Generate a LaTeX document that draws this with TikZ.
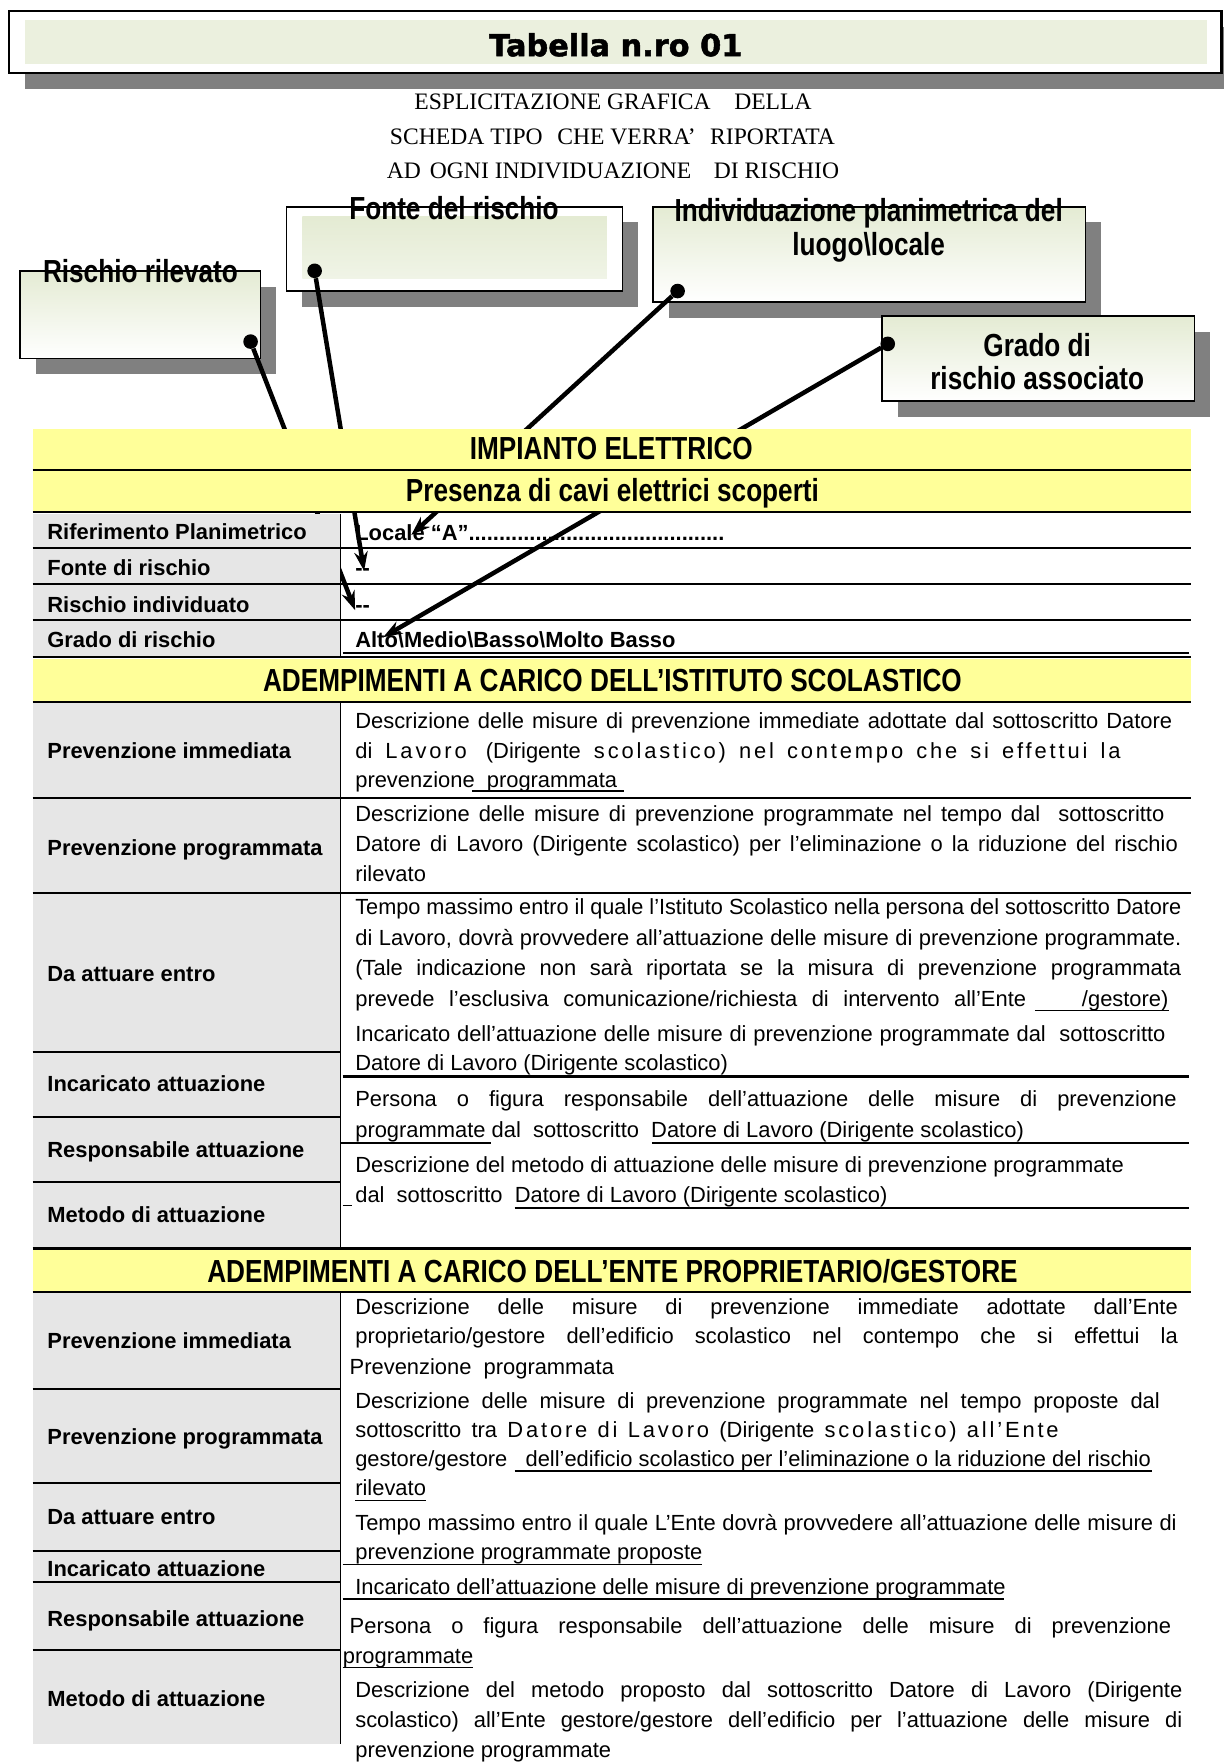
\documentclass[tikz,border=0pt]{standalone}
\usepackage{fontspec}
\usepackage{graphicx}
\setmainfont{Liberation Sans}
\newfontfamily\narrowf{Liberation Sans}[FakeStretch=0.82]
\newfontfamily\heavyf{DejaVu Sans}[BoldFeatures={FakeBold=1.6}]
\newfontfamily\serff{Liberation Serif}
\usetikzlibrary{arrows.meta}

\definecolor{hdryellow}{HTML}{FFFF99}
\definecolor{colgray}{HTML}{E6E6E6}
\definecolor{boxgreen}{HTML}{E4EBD3}
\definecolor{titlegreen}{HTML}{EBF0DE}
\definecolor{shadowgray}{HTML}{808080}

\newlength\jlw
\newcommand\jline[2]{%
  \settowidth\jlw{#2}%
  \ifdim\jlw>#1\relax
    \pgfmathsetmacro\jlr{(#1)/(\jlw)}%
    \scalebox{\jlr}[1]{#2}%
  \else
    \makebox[#1][s]{#2}%
  \fi}
\newcommand\lsp[1]{{\addfontfeature{LetterSpace=13}#1}}
\newcommand\bodyf{\fontsize{19.5}{23}\selectfont}
\newcommand\hdrf{\narrowf\bfseries\fontsize{28.4}{32}\selectfont}

\tikzset{
  txt/.style={anchor=base west, inner sep=0pt, font=\bodyf},
  lbl/.style={anchor=base west, inner sep=0pt, font=\bodyf\bfseries},
  hdr/.style={anchor=base, inner sep=0pt, font=\hdrf},
  sub/.style={anchor=base, inner sep=0pt, font=\serff\fontsize{21}{24}\selectfont},
  rowline/.style={line width=1.9pt},
  vline/.style={line width=1.4pt},
  ulline/.style={line width=1.2pt},
  boxline/.style={draw=black, line width=1.4pt},
  conn/.style={line width=4pt, -{Stealth[length=17pt,width=12pt]}},
  dot/.style={circle, fill=black, inner sep=0pt, minimum size=13pt},
}

\begin{document}
\begin{tikzpicture}[x=1pt,y=-1pt]
\useasboundingbox (0,0) rectangle (1089,1568);
\begin{scope}
\clip (0,0) rectangle (1089,1568);
\fill[white] (0,0) rectangle (1089,1568);

% ---------- title box
\fill[shadowgray] (22,24) rectangle (1103,79);
\filldraw[fill=white, line width=1.9pt] (8,10) rectangle (1087,65);
\fill[titlegreen] (22,18) rectangle (1074,57);
\node[anchor=base, inner sep=0pt, font=\heavyf\bfseries\fontsize{27}{30}\selectfont] (title) at (548,50) {Tabella n.ro 01};

% ---------- subtitle
\node[sub] (sub1) at (545.5,97) {ESPLICITAZIONE GRAFICA\hspace{21pt}DELLA};
\node[sub] (sub2) at (545,129) {SCHEDA TIPO\hspace{13pt}CHE VERRA’\hspace{13pt}RIPORTATA};
\node[sub] (sub3) at (545.5,159) {AD\hspace{8pt}OGNI INDIVIDUAZIONE\hspace{20pt}DI RISCHIO};

% ---------- callout boxes
\fill[shadowgray] (32,255) rectangle (246,333);
\shade[top color=boxgreen, bottom color=white] (18,241) rectangle (232,319);
\draw[boxline] (18,241) rectangle (232,319);

\fill[shadowgray] (269,198) rectangle (568,273);
\filldraw[fill=white, boxline] (255,184) rectangle (554,259);
\shade[top color=boxgreen, bottom color=boxgreen!55!white] (269,193) rectangle (540,248);

\fill[shadowgray] (595,198) rectangle (980,283);
\shade[top color=boxgreen, bottom color=white] (581,184) rectangle (966,269);
\draw[boxline] (581,184) rectangle (966,269);

\fill[shadowgray] (799,295) rectangle (1077,371);
\shade[top color=boxgreen, bottom color=white] (785,281) rectangle (1063,357);
\draw[boxline] (785,281) rectangle (1063,357);

% ---------- connectors (drawn under the table fills)
\node[dot] (d1) at (223,304) {};
\node[dot] (d2) at (280,241) {};
\node[dot] (d3) at (603,259) {};
\node[dot] (d4) at (790,306) {};
\coordinate (t1) at (316,543);
\coordinate (t2) at (324,508);
\coordinate (t3) at (366,476);
\coordinate (t4) at (341,567);
\draw[conn] (d1) -- (t1);
\draw[conn] (d2) -- (t2);
\draw[conn] (d3) -- (t3);
\draw[conn] (d4) -- (t4);

% ---------- table fills
\fill[hdryellow] (29,382) rectangle (1060,456);
\fill[colgray] (29,457) rectangle (303,585);
\fill[hdryellow] (29,586) rectangle (1060,625);
\fill[colgray] (29,626) rectangle (303,1110);
\fill[hdryellow] (29,1111) rectangle (1060,1150);
\fill[colgray] (29,1151) rectangle (303,1552);

% ---------- table lines
\foreach \yy in {418,456,488,520,552,585,625,710,795,1111,1150}
  \draw[rowline] (29,\yy) -- (1060,\yy);
\foreach \yy in {936,994,1052,1236,1320,1380,1408,1468}
  \draw[rowline] (29,\yy) -- (303,\yy);
\draw[rowline] (305,581) -- (1058,581);
\draw[rowline] (305,958) -- (1058,958);
\draw[rowline] (580,1017) -- (1058,1017);
\draw[rowline] (458,1075) -- (1058,1075);
\draw[vline] (303,457) -- (303,585);
\draw[vline] (303,626) -- (303,1110);
\draw[vline] (303,1150) -- (303,1552);

% underlines
\draw[ulline] (420,704) -- (555,704);
\draw[ulline] (921,899) -- (1040,899);
\draw[ulline] (303,1017) -- (437,1017);
\draw[ulline] (305,1073) -- (313,1073);
\draw[ulline] (458,1309) -- (1025,1309);
\draw[ulline] (316,1335) -- (379,1335);
\draw[ulline] (305,1392) -- (625,1392);
\draw[ulline] (305,1423) -- (893,1423);
\draw[ulline] (305,1484) -- (421,1484);

% ---------- headers
\node[hdr] (h1) at (544,409) {IMPIANTO ELETTRICO};
\node[hdr] (h2) at (545,446) {Presenza di cavi elettrici scoperti};
\node[hdr] (h3) at (545,615) {ADEMPIMENTI A CARICO DELL’ISTITUTO SCOLASTICO};
\node[hdr] (h4) at (545,1141) {ADEMPIMENTI A CARICO DELL’ENTE PROPRIETARIO/GESTORE};

% ---------- left labels
\node[lbl] (l1) at (42,480) {Riferimento Planimetrico};
\node[lbl] (l2) at (42,512) {Fonte di rischio};
\node[lbl] (l3) at (42,545) {Rischio individuato};
\node[lbl] (l4) at (42,576) {Grado di rischio};
\node[lbl] (l5) at (42,675) {Prevenzione immediata};
\node[lbl] (l6) at (42,761) {Prevenzione programmata};
\node[lbl] (l7) at (42,873) {Da attuare entro};
\node[lbl] (l8) at (42,971) {Incaricato attuazione};
\node[lbl] (l9) at (42,1030) {Responsabile attuazione};
\node[lbl] (l10) at (42,1088) {Metodo di attuazione};
\node[lbl] (m5) at (42,1200) {Prevenzione immediata};
\node[lbl] (m6) at (42,1285) {Prevenzione programmata};
\node[lbl] (m7) at (42,1357) {Da attuare entro};
\node[lbl] (m8) at (42,1403) {Incaricato attuazione};
\node[lbl] (m9) at (42,1447) {Responsabile attuazione};
\node[lbl] (m10) at (42,1519) {Metodo di attuazione};

% ---------- top rows content
\node[lbl] (r1) at (316,481) {Locale “A”..........................................};
\node[lbl] (r2) at (316,512) {-{}-};
\node[lbl] (r3) at (316,545) {-{}-};
\node[lbl] (r4) at (316,576) {Alto\textbackslash Medio\textbackslash Basso\textbackslash Molto Basso};

% ---------- section Istituto
\node[txt] (a1) at (316,648) {\jline{727pt}{Descrizione delle misure di prevenzione immediate adottate dal sottoscritto Datore}};
\node[txt] (a2) at (316,675) {\jline{681pt}{di \lsp{Lavoro (}Dirigente \lsp{scolastico)} \lsp{nel} \lsp{contempo} \lsp{che} \lsp{si} \lsp{effettui} \lsp{la}}};
\node[txt] (a3) at (316,701) {prevenzione\ \ programmata};
\node[txt] (b1) at (316,731) {\jline{720pt}{Descrizione delle misure di prevenzione programmate nel tempo dal\ \ sottoscritto}};
\node[txt] (b2) at (316,758) {\jline{732pt}{Datore di Lavoro (Dirigente scolastico) per l’eliminazione o la riduzione del rischio}};
\node[txt] (b3) at (316,784) {rilevato};
\node[txt] (c1) at (316,814) {\jline{735pt}{Tempo massimo entro il quale l’Istituto Scolastico nella persona del sottoscritto Datore}};
\node[txt] (c2) at (316,841) {\jline{735pt}{di Lavoro, dovrà provvedere all’attuazione delle misure di prevenzione programmate.}};
\node[txt] (c3) at (316,868) {\jline{735pt}{(Tale indicazione non sarà riportata se la misura di prevenzione programmata}};
\node[txt] (c4) at (316,896) {\jline{597pt}{prevede l’esclusiva comunicazione/richiesta di intervento all’Ente}};
\node[txt, anchor=base east] (c4b) at (1040,896) {/gestore)};
\node[txt] (c5) at (316,927) {\jline{721pt}{Incaricato dell’attuazione delle misure di prevenzione programmate dal\ \ sottoscritto}};
\node[txt] (c6) at (316,953) {Datore di Lavoro (Dirigente scolastico)};
\node[txt] (e1) at (316,985) {\jline{731pt}{Persona o figura responsabile dell’attuazione delle misure di prevenzione}};
\node[txt] (e2) at (316,1012) {programmate dal\ \ sottoscritto\ \ Datore di Lavoro (Dirigente scolastico)};
\node[txt] (f1) at (316,1043) {Descrizione del metodo di attuazione delle misure di prevenzione programmate};
\node[txt] (f2) at (316,1070) {dal\ \ sottoscritto\ \ Datore di Lavoro (Dirigente scolastico)};

% ---------- section Ente
\node[txt] (g1) at (316,1170) {\jline{732pt}{Descrizione delle misure di prevenzione immediate adottate dall’Ente}};
\node[txt] (g2) at (316,1196) {\jline{732pt}{proprietario/gestore dell’edificio scolastico nel contempo che si effettui la}};
\node[txt] (g3) at (311,1223) {Prevenzione\ \ programmata};
\node[txt] (i1) at (316,1253) {\jline{716pt}{Descrizione delle misure di prevenzione programmate nel tempo proposte dal}};
\node[txt] (i2) at (316,1279) {\jline{626pt}{sottoscritto tra \lsp{Datore} \lsp{di} \lsp{Lavoro} (Dirigente \lsp{scolastico)} \lsp{all’Ente}}};
\node[txt] (i3) at (316,1305) {\jline{708pt}{gestore/gestore\ \ \ dell’edificio scolastico per l’eliminazione o la riduzione del rischio}};
\node[txt] (i4) at (316,1331) {rilevato};
\node[txt] (j1) at (316,1362) {\jline{731pt}{Tempo massimo entro il quale L’Ente dovrà provvedere all’attuazione delle misure di}};
\node[txt] (j2) at (316,1388) {prevenzione programmate proposte};
\node[txt] (k1) at (316,1419) {Incaricato dell’attuazione delle misure di prevenzione programmate};
\node[txt] (n1) at (311,1454) {\jline{731pt}{Persona o figura responsabile dell’attuazione delle misure di prevenzione}};
\node[txt] (n2) at (305,1480) {programmate};
\node[txt] (o1) at (316,1511) {\jline{736pt}{Descrizione del metodo proposto dal sottoscritto Datore di Lavoro (Dirigente}};
\node[txt] (o2) at (316,1537) {\jline{736pt}{scolastico) all’Ente gestore/gestore dell’edificio per l’attuazione delle misure di}};
\node[txt] (o3) at (316,1564) {prevenzione programmate};

% ---------- callout labels
\node[hdr] (bx1) at (125,251) {Rischio rilevato};
\node[hdr] (bx2) at (404,195) {Fonte del rischio};
\node[hdr] (bx3a) at (773,197) {Individuazione planimetrica del};
\node[hdr] (bx3b) at (773,227) {luogo\textbackslash locale};
\node[hdr] (bx4a) at (923,317) {Grado di};
\node[hdr] (bx4b) at (923,347) {rischio associato};
\end{scope}
\end{tikzpicture}
\end{document}
